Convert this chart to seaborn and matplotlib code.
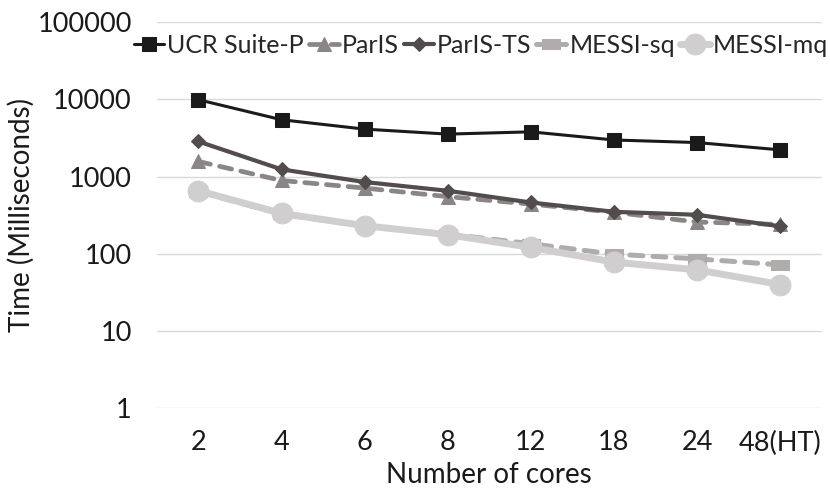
import pandas as pd
import numpy as np
import matplotlib.pyplot as plt
import seaborn as sns

sns.set_style("white")
plt.rcParams['font.family'] = ['Lato', 'DejaVu Sans']

cores = ['2', '4', '6', '8', '12', '18', '24', '48(HT)']
ucr_suite_p = [9900, 5450, 4120, 3550, 3800, 2980, 2760, 2220]
paris = [1570, 890, 710, 550, 440, 345, 258, 240]
paris_ts = [2850, 1240, 850, 655, 462, 350, 320, 227]
messi_sq = [640, 325, 228, 180, 135, 99, 86, 72]
messi_mq = [656, 334, 231, 177, 121, 78, 62, 40]

series = ['UCR Suite-P', 'ParIS', 'ParIS-TS', 'MESSI-sq', 'MESSI-mq']
values = [ucr_suite_p, paris, paris_ts, messi_sq, messi_mq]

df = pd.concat([pd.DataFrame({'cores': cores, 'time': v, 'series': s})
                for s, v in zip(series, values)], ignore_index=True)

rect = [(-1, -0.5), (1, -0.5), (1, 0.5), (-1, 0.5), (-1, -0.5)]
styles = {
    'UCR Suite-P': dict(color='#1a1a1a', lw=2.2, marker='s', ms=9.5, ls='-'),
    'ParIS': dict(color='#8a8685', lw=3.4, marker='^', ms=10, ls=(0, (2.6, 2.0))),
    'ParIS-TS': dict(color='#524c4c', lw=3.0, marker='D', ms=7.5, ls='-'),
    'MESSI-sq': dict(color='#b0acac', lw=3.6, marker=rect, ms=13, ls=(0, (2.6, 2.0))),
    'MESSI-mq': dict(color='#d0cece', lw=5.0, marker='o', ms=15, ls='-'),
}

fig, ax = plt.subplots(figsize=(8.3, 4.93), dpi=100)
fig.subplots_adjust(left=0.189, right=0.99, top=0.955, bottom=0.172)

for s in series:
    st = styles[s]
    sns.lineplot(data=df[df['series'] == s], x='cores', y='time', ax=ax,
                 sort=False, color=st['color'], linewidth=st['lw'],
                 marker=st['marker'], markersize=st['ms'],
                 markeredgecolor=st['color'], linestyle=st['ls'],
                 dash_capstyle='round', label=s)

ax.set_yscale('log')
ax.set_ylim(1, 100000)
ax.set_yticks([1, 10, 100, 1000, 10000, 100000])
ax.set_yticklabels(['1', '10', '100', '1000', '10000', '100000'])
ax.minorticks_off()
ax.set_xlim(-0.5, len(cores) - 0.5)
ax.grid(axis='y', color='#d9d9d9', linewidth=1)
ax.grid(axis='x', visible=False)
for sp in ax.spines.values():
    sp.set_visible(False)
ax.tick_params(axis='both', length=0, labelsize=19.5, colors='#1a1a1a')
ax.tick_params(axis='x', pad=16)
ax.tick_params(axis='y', pad=18)
ax.set_xlabel('Number of cores', fontsize=20, color='#1a1a1a', labelpad=5)
ax.set_ylabel('Time (Milliseconds)', fontsize=20, color='#1a1a1a', labelpad=2)

ax.legend(loc='center', bbox_to_anchor=(0.488, 0.94), ncol=5, frameon=False,
          fontsize=18, handlelength=1.2, handletextpad=0.12, columnspacing=0.2,
          borderaxespad=0)

plt.savefig('out.png', dpi=100)
